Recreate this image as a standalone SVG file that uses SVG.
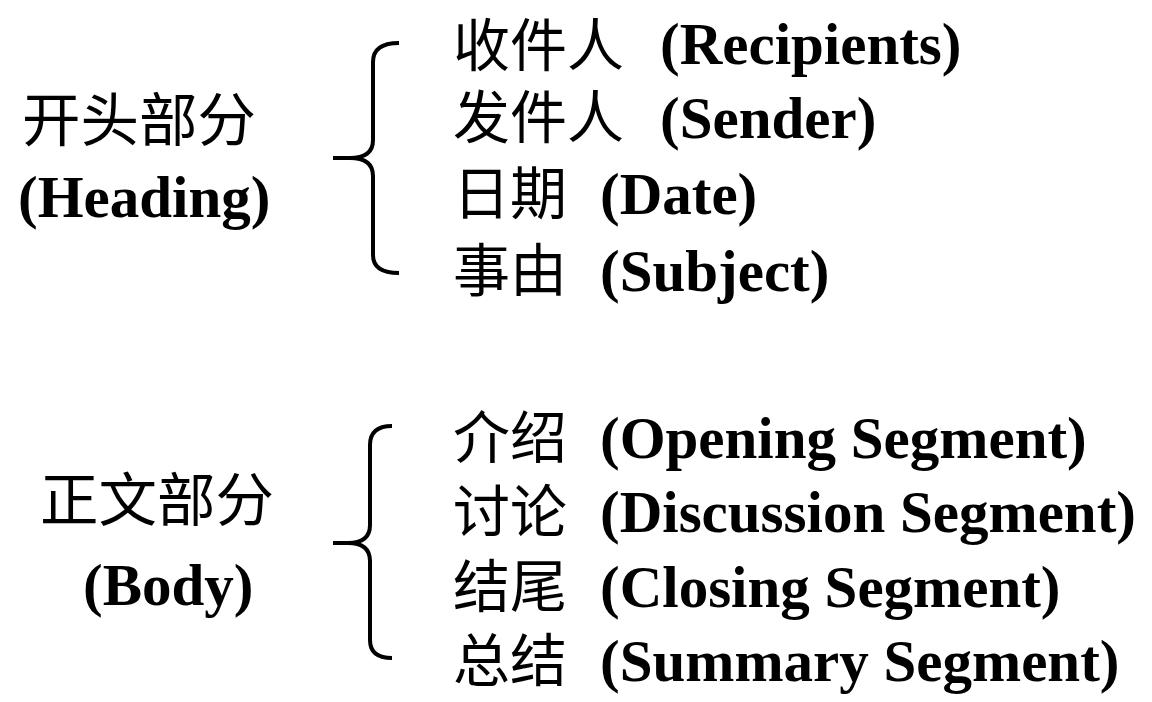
<svg xmlns="http://www.w3.org/2000/svg" width="1152" height="702" viewBox="0 0 1152 702">
<style>
.zh{font-family:"Noto Sans CJK SC","Noto Sans CJK TC",sans-serif;font-size:57px;fill:#000}
.zl{font-family:"Noto Sans CJK SC","Noto Sans CJK TC",sans-serif;font-size:58.5px;fill:#000}
.en{font-family:"Liberation Serif","Times New Roman",serif;font-weight:bold;font-size:59px;fill:#000}
.brace{fill:none;stroke:#000;stroke-width:4;stroke-linecap:butt}
</style>
<rect width="1152" height="702" fill="#fff"/>
<g id="heading">
<text class="zl" x="22" y="141">开头部分</text>
<text class="en" x="18" y="217">(Heading)</text>
</g>
<g id="body">
<text class="zl" x="40" y="521">正文部分</text>
<text class="en" x="83" y="605">(Body)</text>
</g>
<g id="connectors">
<path class="brace" d="M399,43 Q373,43 373,62 L373,140 Q373,158 350,158 L333,158 M350,158 Q373,158 373,176 L373,255 Q373,273 399,273"/>
<path class="brace" d="M392,426 Q370,426 370,445 L370,525 Q370,543 348,543 L333,543 M348,543 Q370,543 370,561 L370,640 Q370,658 392,658"/>
</g>
<g id="recipients"><text class="zh" x="453" y="66">收件人</text><text class="en" x="660" y="64">(Recipients)</text></g>
<g id="sender"><text class="zh" x="453" y="138">发件人</text><text class="en" x="660" y="138">(Sender)</text></g>
<g id="date"><text class="zh" x="453" y="214">日期</text><text class="en" x="600" y="214">(Date)</text></g>
<g id="subject"><text class="zh" x="453" y="291">事由</text><text class="en" x="600" y="291">(Subject)</text></g>
<g id="opening"><text class="zh" x="453" y="458">介绍</text><text class="en" x="600" y="458">(Opening Segment)</text></g>
<g id="discussion"><text class="zh" x="453" y="532">讨论</text><text class="en" x="600" y="532">(Discussion Segment)</text></g>
<g id="closing"><text class="zh" x="453" y="607">结尾</text><text class="en" x="600" y="607">(Closing Segment)</text></g>
<g id="summary"><text class="zh" x="453" y="681">总结</text><text class="en" x="600" y="681">(Summary Segment)</text></g>
</svg>
